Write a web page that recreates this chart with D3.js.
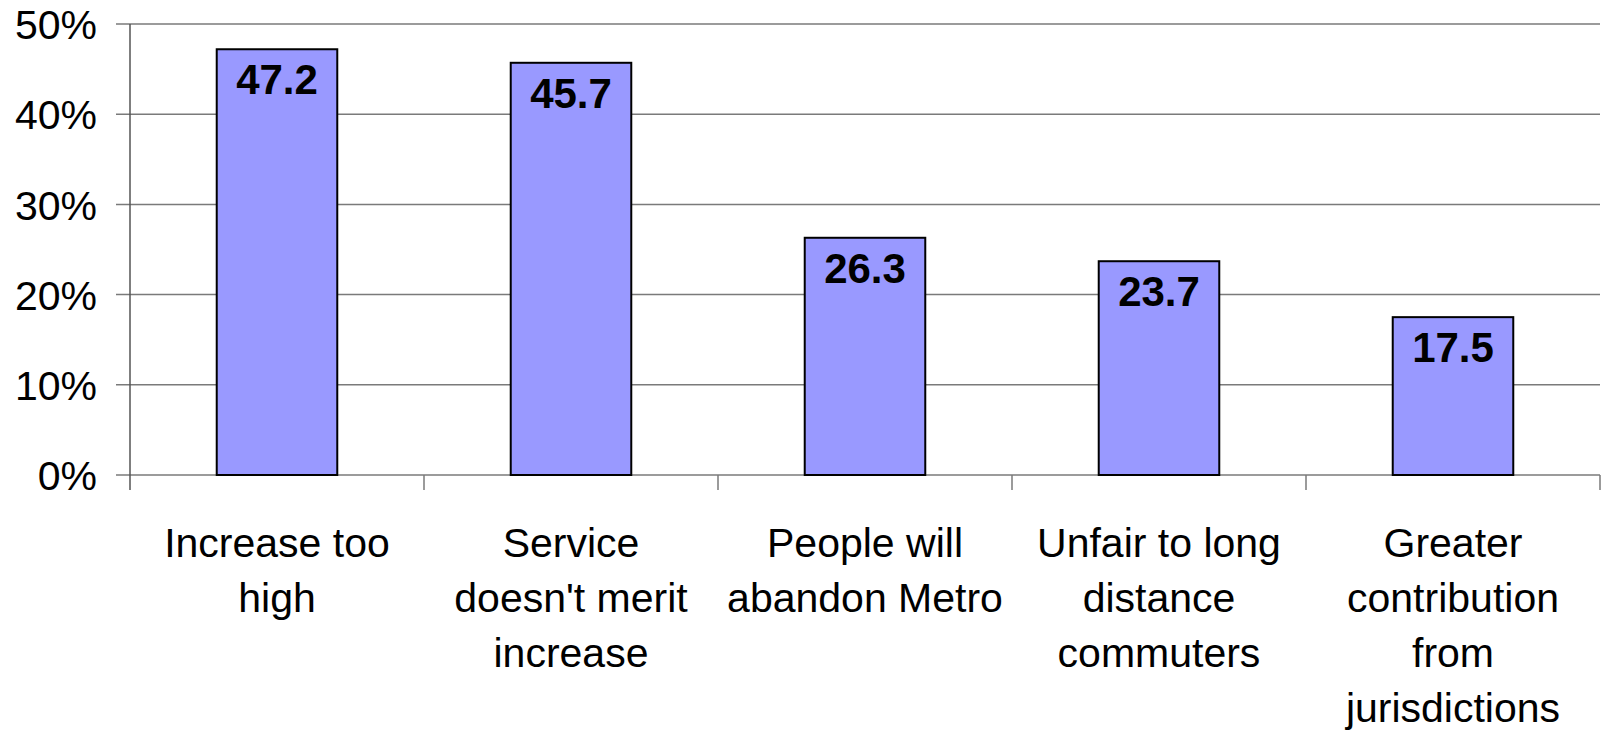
<!DOCTYPE html>
<html>
<head>
<meta charset="utf-8">
<script src="https://cdn.jsdelivr.net/npm/d3@7"></script>
<style>
  html, body { margin: 0; padding: 0; background: #fff; }
  svg { display: block; font-family: "Liberation Sans", Arial, sans-serif; }
</style>
</head>
<body>
<div id="chart"></div>
<script>
const categories = [
  ["Increase too", "high"],
  ["Service", "doesn't merit", "increase"],
  ["People will", "abandon Metro"],
  ["Unfair to long", "distance", "commuters"],
  ["Greater", "contribution", "from", "jurisdictions"]
];
const values = [47.2, 45.7, 26.3, 23.7, 17.5];
const yTicks = [0, 10, 20, 30, 40, 50];

const W = 1608, H = 735;
const margin = { top: 24, right: 8, bottom: 260, left: 130 };
const width = W - margin.left - margin.right;
const height = H - margin.top - margin.bottom;

const svg = d3.select("#chart").append("svg")
  .attr("width", W).attr("height", H);
const g = svg.append("g").attr("transform", `translate(${margin.left},${margin.top})`);

const x = d3.scaleBand().domain(d3.range(categories.length)).range([0, width]).paddingInner(0.59).paddingOuter(0.295);
const xOuter = d3.scaleBand().domain(d3.range(categories.length)).range([0, width]);
const y = d3.scaleLinear().domain([0, 50]).range([height, 0]);

// gridlines
g.append("g")
  .selectAll("line")
  .data(yTicks)
  .join("line")
    .attr("x1", -14).attr("x2", width)
    .attr("y1", d => y(d)).attr("y2", d => y(d))
    .attr("stroke", "#7a7a7a").attr("stroke-width", 1.5);

// y axis labels
const yAxis = g.append("g")
  .call(d3.axisLeft(y).tickValues(yTicks).tickSize(14).tickPadding(19).tickFormat(d => d + "%"));
yAxis.select(".domain").remove();
yAxis.selectAll("line").remove();
yAxis.selectAll("text")
  .attr("font-size", 41).attr("fill", "#000").attr("font-family", "Liberation Sans, Arial, sans-serif")
  .attr("dy", "0.36em");

g.append("line")
  .attr("x1", 0).attr("x2", 0).attr("y1", 0).attr("y2", height + 15)
  .attr("stroke", "#555").attr("stroke-width", 1.5);

// x category ticks
g.append("g")
  .selectAll("line")
  .data(d3.range(categories.length))
  .join("line")
    .attr("x1", d => xOuter(d) + xOuter.bandwidth()).attr("x2", d => xOuter(d) + xOuter.bandwidth())
    .attr("y1", height).attr("y2", height + 15)
    .attr("stroke", "#7a7a7a").attr("stroke-width", 1.5);

// bars
g.selectAll(".bar")
  .data(values)
  .join("rect")
    .attr("class", "bar")
    .attr("x", (d, i) => x(i))
    .attr("y", d => y(d))
    .attr("width", x.bandwidth())
    .attr("height", d => height - y(d))
    .attr("fill", "#9999ff")
    .attr("stroke", "#000")
    .attr("stroke-width", 2);

// value labels
g.selectAll(".val")
  .data(values)
  .join("text")
    .attr("class", "val")
    .attr("x", (d, i) => x(i) + x.bandwidth() / 2)
    .attr("y", d => y(d) + 45)
    .attr("text-anchor", "middle")
    .attr("font-size", 42)
    .attr("font-weight", "bold")
    .attr("fill", "#000")
    .text(d => d.toFixed(1));

// category labels
const cat = g.selectAll(".cat")
  .data(categories)
  .join("text")
    .attr("class", "cat")
    .attr("text-anchor", "middle")
    .attr("font-size", 41)
    .attr("fill", "#000");
cat.each(function(lines, i) {
  d3.select(this).selectAll("tspan")
    .data(lines)
    .join("tspan")
      .attr("x", xOuter(i) + xOuter.bandwidth() / 2)
      .attr("y", (d, j) => height + 82 + j * 55)
      .text(d => d);
});
</script>
</body>
</html>
